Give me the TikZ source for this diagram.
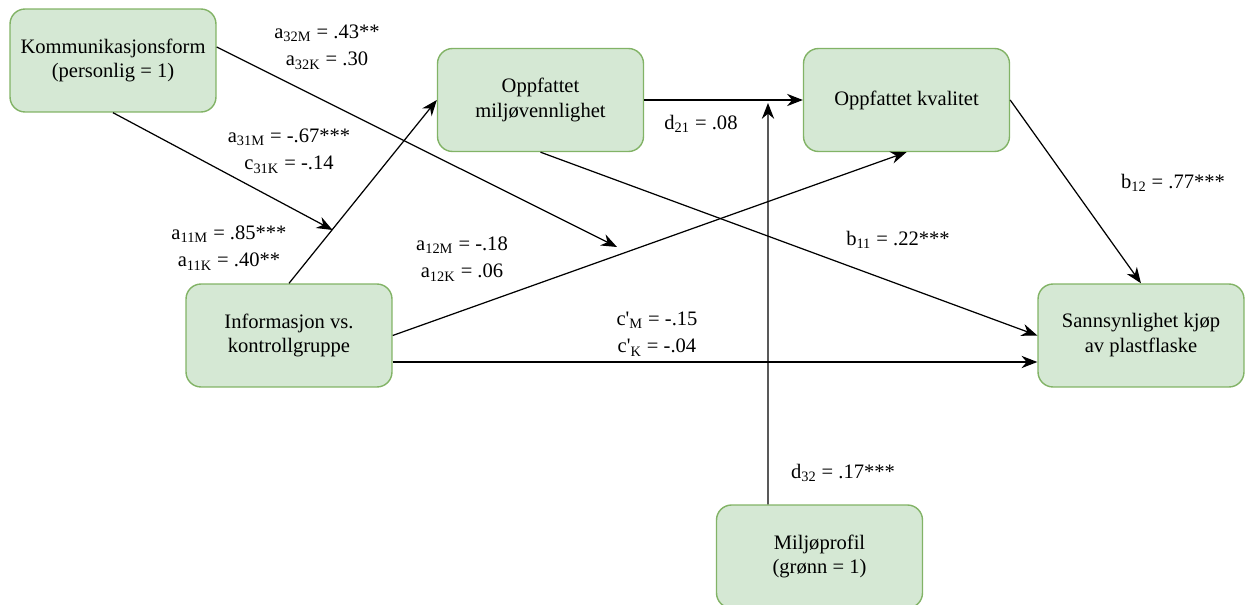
\documentclass[tikz,border=0pt]{standalone}
\usepackage{fontspec}
\setmainfont{Liberation Serif}
\usetikzlibrary{arrows.meta}
\definecolor{boxfill}{HTML}{D5E8D4}
\definecolor{boxline}{HTML}{82B366}
\tikzset{
  var/.style={draw=boxline,fill=boxfill,rounded corners=0.3cm,line width=0.8pt,minimum width=4.12cm,minimum height=2.06cm,align=center,font=\fontsize{11.7}{14.2}\selectfont},
  coef/.style={align=center,font=\fontsize{11.7}{15.6}\selectfont},
  path/.style={->,line width=0.7pt}
}
\begin{document}
\begin{tikzpicture}[x=0.02cm,y=-0.02cm,>={Stealth[length=9pt,width=7pt]}]
\useasboundingbox (0,0) rectangle (1245,605);
\node[var] (komm) at (113,60.5) {Kommunikasjonsform\\(personlig = 1)};
\node[var] (milj) at (540.5,100) {Oppfattet\\miljøvennlighet};
\node[var] (kval) at (906.5,100) {Oppfattet kvalitet};
\node[var] (info) at (289,335.5) {Informasjon vs.\\kontrollgruppe};
\node[var] (sann) at (1141,335.5) {Sannsynlighet kjøp\\av plastflaske};
\node[var] (prof) at (819.5,556.5) {Miljøprofil\\(grønn = 1)};
\coordinate (m1) at (332.6,230);
\coordinate (m2) at (617,247);
\coordinate (m3) at (768,103);
\draw[path] (info.north) -- (milj.west);
\draw[path] (komm.south) -- (m1);
\draw[path] ([yshift=0.27cm]komm.east) -- (m2);
\draw[path] (info.east) -- (kval.south);
\draw[path] ([yshift=-0.53cm]info.east) -- ([yshift=-0.53cm]sann.west);
\draw[path] (milj.east) -- (kval.west);
\draw[path] ([xshift=-1.03cm]prof.north) -- (m3);
\draw[path] (milj.south) -- (sann.west);
\draw[path] (kval.east) -- (sann.north);
\node[coef] (a32) at (327,47) {a\textsubscript{32M} = .43**\\a\textsubscript{32K} = .30};
\node[coef] (a31) at (289,151) {a\textsubscript{31M} = -.67***\\c\textsubscript{31K} = -.14};
\node[coef] (a11) at (229,248) {a\textsubscript{11M} = .85***\\a\textsubscript{11K} = .40**};
\node[coef] (a12) at (462,259) {a\textsubscript{12M} = -.18\\a\textsubscript{12K} = .06};
\node[coef] (cm) at (657,334) {c\textquotesingle\textsubscript{M} = -.15\\c\textquotesingle\textsubscript{K} = -.04};
\node[coef] (d21) at (701,124) {d\textsubscript{21} = .08};
\node[coef] (b11) at (898,240) {b\textsubscript{11} = .22***};
\node[coef] (b12) at (1173,183) {b\textsubscript{12} = .77***};
\node[coef] (d32) at (843,473) {d\textsubscript{32} = .17***};
\end{tikzpicture}
\end{document}
